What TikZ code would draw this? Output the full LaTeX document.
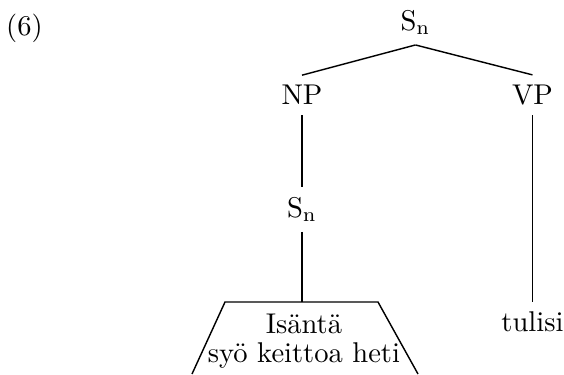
\documentclass[tikz,border=0pt]{standalone}
\usepackage{tikz}
\usetikzlibrary{arrows.meta}
\tikzset{>={Stealth[scale=1]}}

\begin{document}
\begin{tikzpicture}[line width=0.5pt]
      \useasboundingbox (0, 0) rectangle (6.938, 4.601);
      \node (ex) at (0.301, 4.256) { (6) };
      \node (top) at (5.111, 4.324) { S$_\mathrm{n}$ };
      \node (np) at (3.715, 3.430) { NP };
      \node (vp) at (6.550, 3.430) { VP };
      \node (inner) at (3.715, 2.025) { S$_\mathrm{n}$ };
      \node (tulisi) at (6.550, 0.640) { tulisi };
      \coordinate (roof) at (3.715, 0.886);
      \coordinate (tl) at (2.768, 0.886);
      \coordinate (tr) at (4.650, 0.886);
      \coordinate (bl) at (2.362, 0.0);
      \coordinate (br) at (5.142, 0.0);
      \draw (top.south) to (np.north);
      \draw (top.south) to (vp.north);
      \draw (np.south) to (inner.north);
      \draw (inner.south) to (roof);
      \draw (vp.south) to (tulisi.north);
      \draw (bl) -- (tl) -- (tr) -- (br);
      \node[align=center, font=\fontsize{10}{10.2}\selectfont] (clause) at (3.739, 0.399) { Isäntä\\ syö keittoa heti };
    \end{tikzpicture}
\end{document}
